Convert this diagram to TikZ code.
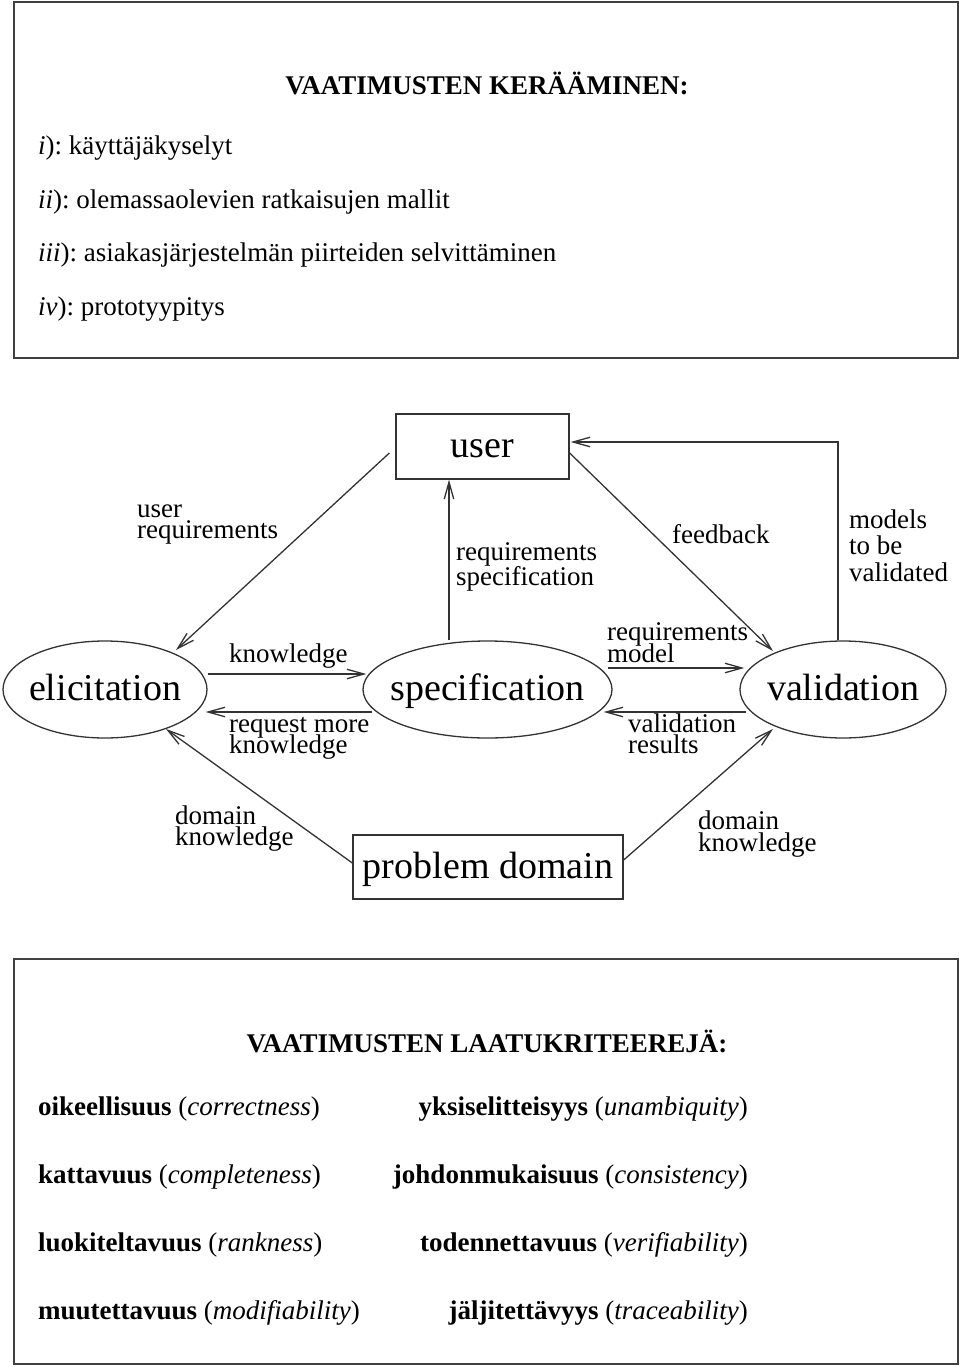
\documentclass[tikz,border=0pt]{standalone}
\usepackage{fontspec}
\setmainfont{Liberation Serif}
\usetikzlibrary{arrows.meta,calc,shapes.geometric}
\newcommand{\stk}[2]{\vtop{\lineskiplimit=-100pt\baselineskip=#1pt\relax #2}}
\frenchspacing
\begin{document}
\begin{tikzpicture}[x=1pt,y=-1pt,
  frame/.style={draw=black!75,line width=1.8pt},
  ln/.style={draw=black!80,line width=1.3pt},
  arr/.style={ln,-{Straight Barb[length=17pt,width=9.5pt,line width=1.3pt]}},
  big/.style={font=\fontsize{38}{38}\selectfont,text height=27pt,text depth=5pt},
  txt/.style={font=\fontsize{27}{27}\selectfont\frenchspacing,inner sep=0pt},
  lab/.style={txt,anchor=base west},
  ell/.style={ellipse,draw=black!80,line width=1.3pt,inner sep=0pt,minimum height=97pt,big},
  rbox/.style={rectangle,draw=black!80,line width=1.3pt,inner sep=0pt,big},
]
\useasboundingbox (0,0) rectangle (960,1367);
\fill[white] (0,0) rectangle (960,1367);

% top box
\draw[frame] (14,2) rectangle (958,358);
\node[txt,anchor=base,font=\fontsize{27}{27}\selectfont\bfseries] (t0) at (487,95) {VAATIMUSTEN KERÄÄMINEN:};
\node[lab] (t1) at (38,155) {\textit{i}): käyttäjäkyselyt};
\node[lab] (t2) at (38,208) {\textit{ii}): olemassaolevien ratkaisujen mallit};
\node[lab] (t3) at (38,261) {\textit{iii}): asiakasjärjestelmän piirteiden selvittäminen};
\node[lab] (t4) at (38,315) {\textit{iv}): prototyypitys};

% diagram nodes
\node[rbox,minimum width=173pt,minimum height=65pt] (user) at (482.5,446.5) {\makebox[0pt]{user}};
\node[ell,minimum width=204pt] (elic) at (105,689.5) {\makebox[0pt]{elicitation}};
\node[ell,minimum width=249pt] (spec) at (487.5,689.5) {\makebox[0pt]{specification}};
\node[ell,minimum width=206pt] (val) at (843,689.5) {\makebox[0pt]{validation}};
\node[rbox,minimum width=270pt,minimum height=64pt] (prob) at (488,867) {\makebox[0pt]{problem domain}};

% connectors
\coordinate (vx) at (449,0);
\coordinate (mx) at (838,0);
\draw[arr] ($(user.west)+(-6,6.5)$) -- ($(elic.center)+(71,-39.5)$);
\draw[arr] (spec.north -| vx) -- (user.south -| vx);
\draw[arr] ($(user.east)+(0,6.5)$) -- ($(val.center)+(-70,-38.5)$);
\draw[arr] (val.north -| mx) |- ($(user.east)+(1,-4.5)$);
\draw[arr] ($(elic.east)+(0,-15.5)$) -- ($(spec.west)+(4,-15.5)$);
\draw[arr] ($(spec.west)+(10,22.5)$) -- ($(elic.east)+(-2,22.5)$);
\draw[arr] ($(spec.east)+(-5,-21.5)$) -- ($(val.west)+(5,-21.5)$);
\draw[arr] ($(val.west)+(7,22.5)$) -- ($(spec.east)+(-9,22.5)$);
\draw[arr] ($(prob.west)+(0,-4)$) -- ($(elic.center)+(61,39.5)$);
\draw[arr] ($(prob.east)+(0,-7)$) -- ($(val.center)+(-70,39.5)$);

% labels
\node[lab] (l1) at (137,517) {\stk{21}{\hbox{user}\hbox{requirements}}};
\node[lab] (l2) at (456,560) {\stk{25}{\hbox{requirements}\hbox{specification}}};
\node[lab] (l3) at (672,543) {feedback};
\node[lab] (l4) at (849,528) {\stk{26.5}{\hbox{models}\hbox{to be}\hbox{validated}}};
\node[lab] (l5) at (229,662) {knowledge};
\node[lab] (l6) at (229,732) {\stk{21.5}{\hbox{request more}\hbox{knowledge}}};
\node[lab] (l7) at (607,640) {\stk{22}{\hbox{requirements}\hbox{model}}};
\node[lab] (l8) at (628,732) {\stk{21.5}{\hbox{validation}\hbox{results}}};
\node[lab] (l9) at (175,824) {\stk{21}{\hbox{domain}\hbox{knowledge}}};
\node[lab] (l10) at (698,829) {\stk{22}{\hbox{domain}\hbox{knowledge}}};

% bottom box
\draw[frame] (14,959) rectangle (958,1364);
\node[txt,anchor=base,font=\fontsize{27}{27}\selectfont\bfseries] (b0) at (487,1052) {VAATIMUSTEN LAATUKRITEEREJÄ:};
\node[lab] (b1) at (38,1115) {\textbf{oikeellisuus} (\textit{correctness})};
\node[lab] (b2) at (38,1183) {\textbf{kattavuus} (\textit{completeness})};
\node[lab] (b3) at (38,1251) {\textbf{luokiteltavuus} (\textit{rankness})};
\node[lab] (b4) at (38,1319) {\textbf{muutettavuus} (\textit{modifiability})};
\node[txt,anchor=base east] (c1) at (748,1115) {\textbf{yksiselitteisyys} (\textit{unambiquity})};
\node[txt,anchor=base east] (c2) at (748,1183) {\textbf{johdonmukaisuus} (\textit{consistency})};
\node[txt,anchor=base east] (c3) at (748,1251) {\textbf{todennettavuus} (\textit{verifiability})};
\node[txt,anchor=base east] (c4) at (748,1319) {\textbf{jäljitettävyys} (\textit{traceability})};
\end{tikzpicture}
\end{document}
